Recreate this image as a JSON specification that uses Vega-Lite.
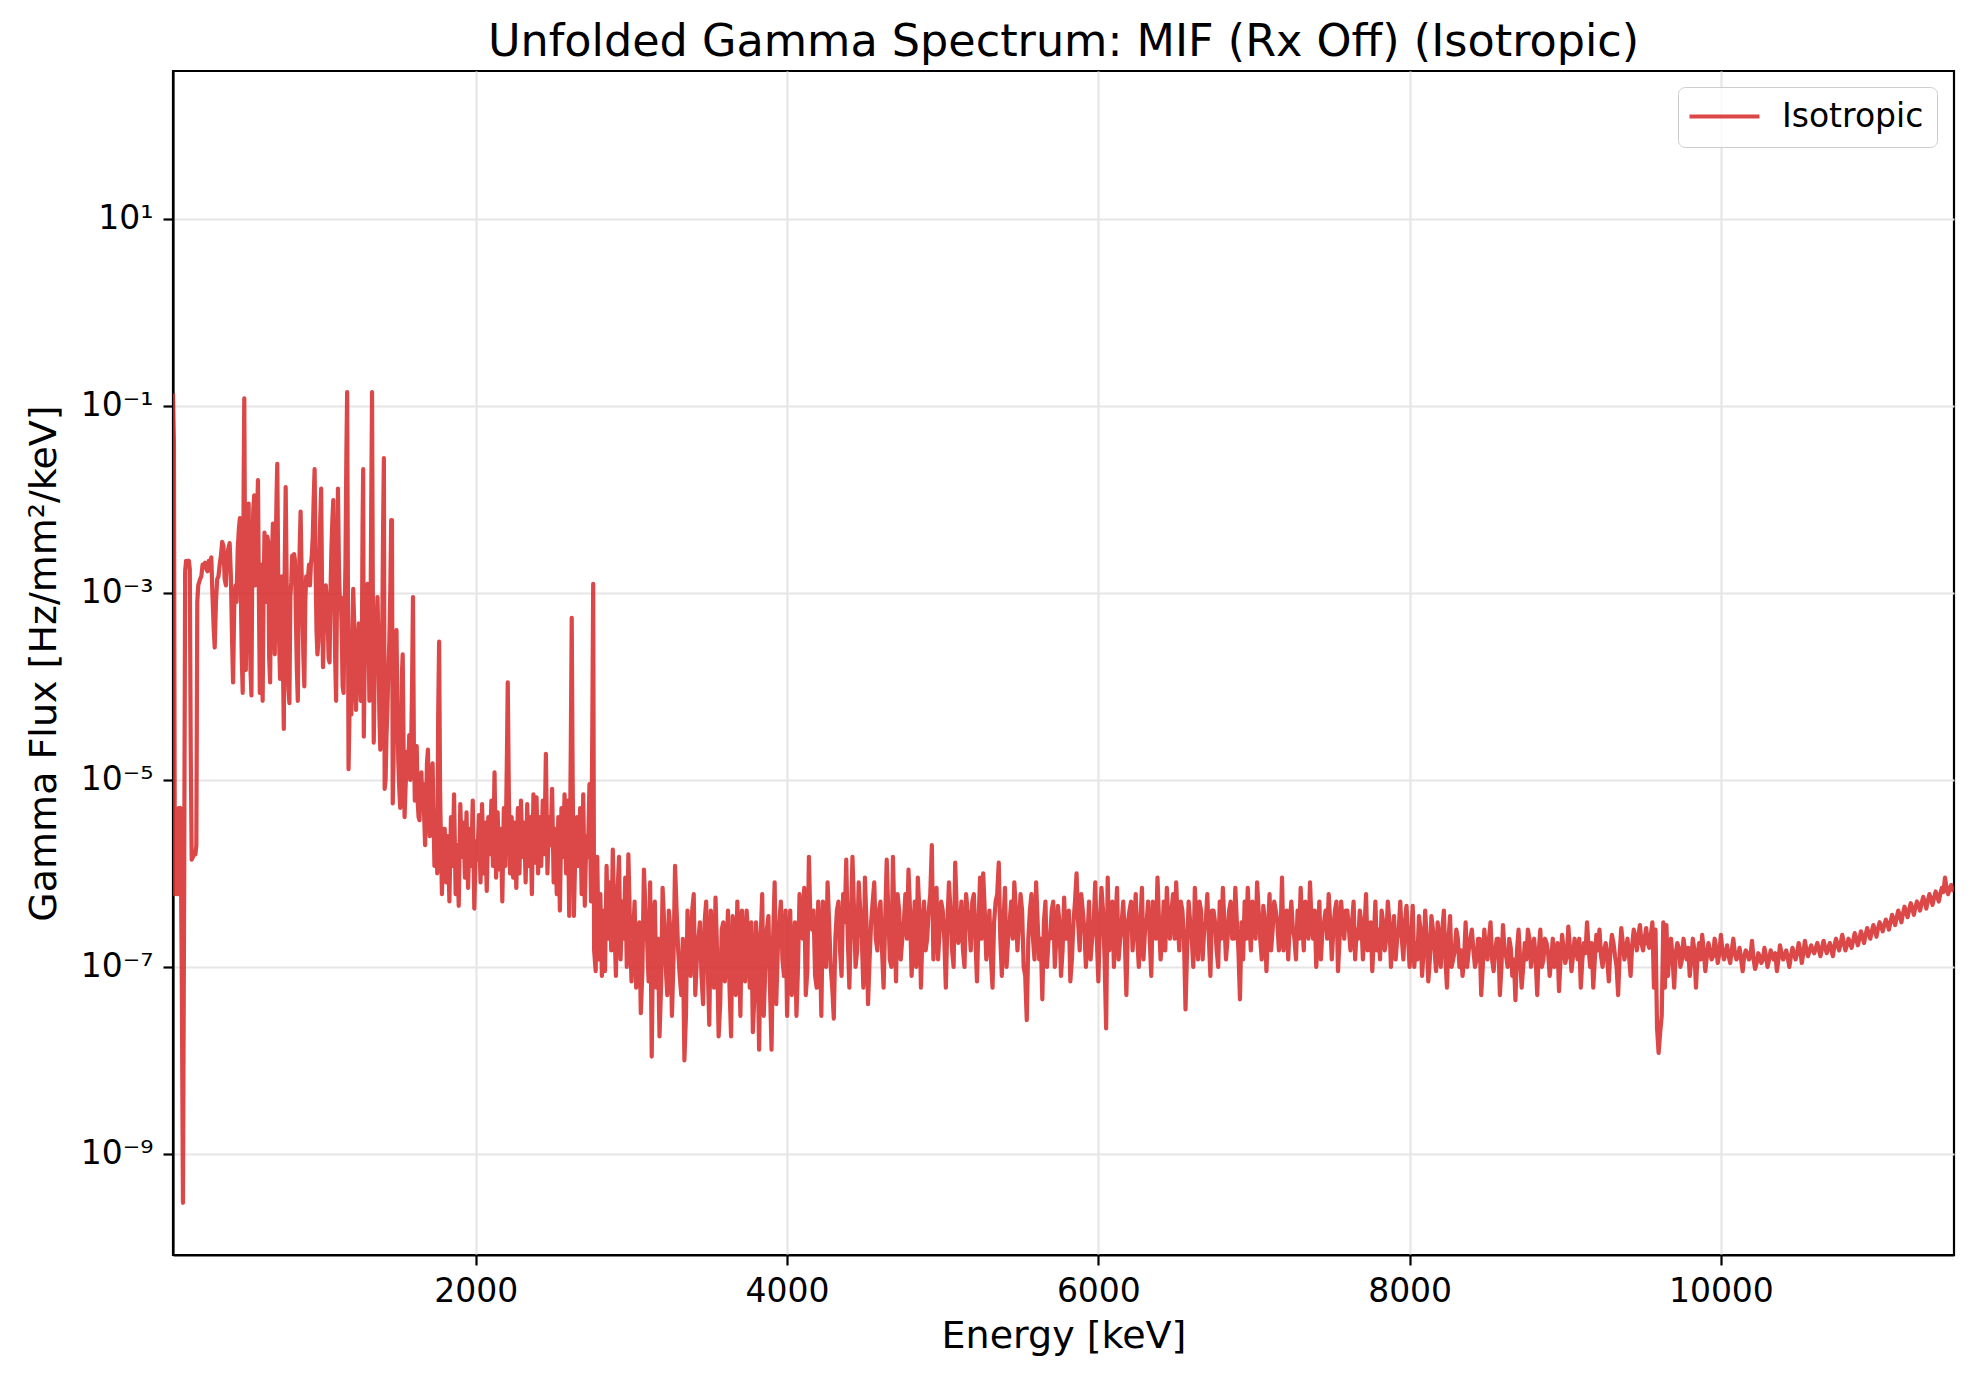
{
  "$schema": "https://vega.github.io/schema/vega-lite/v6.json",
  "autosize": {"type": "none"},
  "width": 1781,
  "height": 1184,
  "padding": {"left": 173, "top": 71, "right": 21, "bottom": 124},
  "background": "white",
  "title": {"text": "Unfolded Gamma Spectrum: MIF (Rx Off) (Isotropic)"},
  "data": {
    "values": [
      {"energy": 54, "flux": 0.135}, {"energy": 60, "flux": 0.04}, {"energy": 66, "flux": 6e-7}, {"energy": 72, "flux": 7e-7},
      {"energy": 78, "flux": 6.5e-7}, {"energy": 84, "flux": 6e-7}, {"energy": 90, "flux": 5e-6}, {"energy": 96, "flux": 4.5e-6},
      {"energy": 102, "flux": 5e-6}, {"energy": 110, "flux": 1e-7}, {"energy": 118, "flux": 3e-10}, {"energy": 126, "flux": 1e-6},
      {"energy": 132, "flux": 1.7e-3}, {"energy": 138, "flux": 2.2e-3}, {"energy": 144, "flux": 1.9e-3}, {"energy": 150, "flux": 2.1e-3},
      {"energy": 156, "flux": 2.2e-3}, {"energy": 162, "flux": 1.8e-3}, {"energy": 168, "flux": 2e-5}, {"energy": 174, "flux": 1.4e-6},
      {"energy": 182, "flux": 1.5e-6}, {"energy": 190, "flux": 1.7e-6}, {"energy": 198, "flux": 1.6e-6}, {"energy": 204, "flux": 2e-6},
      {"energy": 210, "flux": 8e-4}, {"energy": 216, "flux": 1.2e-3}, {"energy": 228, "flux": 1.4e-3}, {"energy": 236, "flux": 1.5e-3},
      {"energy": 244, "flux": 2.0e-3}, {"energy": 252, "flux": 1.9e-3}, {"energy": 260, "flux": 2.1e-3}, {"energy": 268, "flux": 1.8e-3},
      {"energy": 276, "flux": 1.7e-3}, {"energy": 284, "flux": 2.2e-3}, {"energy": 292, "flux": 2.0e-3}, {"energy": 300, "flux": 2.4e-3},
      {"energy": 308, "flux": 9e-4}, {"energy": 316, "flux": 4e-4}, {"energy": 322, "flux": 2.6e-4}, {"energy": 330, "flux": 8e-4},
      {"energy": 338, "flux": 1.4e-3}, {"energy": 346, "flux": 1.5e-3}, {"energy": 354, "flux": 2.0e-3}, {"energy": 362, "flux": 2.5e-3},
      {"energy": 370, "flux": 3.5e-3}, {"energy": 378, "flux": 3.2e-3}, {"energy": 386, "flux": 1.4e-3}, {"energy": 394, "flux": 1.2e-3},
      {"energy": 402, "flux": 2.5e-3}, {"energy": 410, "flux": 3.0e-3}, {"energy": 418, "flux": 3.4e-3}, {"energy": 426, "flux": 1.5e-3},
      {"energy": 434, "flux": 3e-4}, {"energy": 440, "flux": 1.1e-4}, {"energy": 448, "flux": 8e-4}, {"energy": 456, "flux": 1.2e-3},
      {"energy": 462, "flux": 8e-4}, {"energy": 470, "flux": 3e-3}, {"energy": 478, "flux": 5e-3}, {"energy": 484, "flux": 6.3e-3},
      {"energy": 490, "flux": 1e-3}, {"energy": 496, "flux": 2e-4}, {"energy": 502, "flux": 8.5e-5}, {"energy": 508, "flux": 1.5e-2},
      {"energy": 512, "flux": 0.12}, {"energy": 516, "flux": 5e-3}, {"energy": 522, "flux": 1.5e-4}, {"energy": 528, "flux": 2e-3},
      {"energy": 534, "flux": 4e-3}, {"energy": 540, "flux": 9e-3}, {"energy": 546, "flux": 6e-4}, {"energy": 552, "flux": 1.5e-4},
      {"energy": 558, "flux": 8e-5}, {"energy": 564, "flux": 3e-3}, {"energy": 570, "flux": 8e-3}, {"energy": 576, "flux": 1.1e-2},
      {"energy": 582, "flux": 1.2e-3}, {"energy": 588, "flux": 2e-3}, {"energy": 594, "flux": 6e-3}, {"energy": 600, "flux": 1.6e-2},
      {"energy": 606, "flux": 9e-4}, {"energy": 612, "flux": 8.5e-5}, {"energy": 618, "flux": 4e-4}, {"energy": 624, "flux": 2e-3},
      {"energy": 630, "flux": 7e-5}, {"energy": 636, "flux": 1e-3}, {"energy": 642, "flux": 4.4e-3}, {"energy": 648, "flux": 1.5e-3},
      {"energy": 654, "flux": 8e-4}, {"energy": 660, "flux": 4e-3}, {"energy": 666, "flux": 3.5e-3}, {"energy": 672, "flux": 2e-4},
      {"energy": 678, "flux": 1.1e-4}, {"energy": 684, "flux": 1e-3}, {"energy": 690, "flux": 2.5e-3}, {"energy": 696, "flux": 5.5e-3},
      {"energy": 702, "flux": 8e-4}, {"energy": 708, "flux": 2.2e-4}, {"energy": 714, "flux": 3e-3}, {"energy": 720, "flux": 1.2e-2},
      {"energy": 724, "flux": 2.4e-2}, {"energy": 730, "flux": 1.5e-3}, {"energy": 736, "flux": 3e-4}, {"energy": 742, "flux": 1.2e-4},
      {"energy": 748, "flux": 6e-4}, {"energy": 754, "flux": 1.5e-3}, {"energy": 760, "flux": 2e-4}, {"energy": 766, "flux": 3.5e-5},
      {"energy": 772, "flux": 2e-3}, {"energy": 778, "flux": 1.35e-2}, {"energy": 784, "flux": 1.5e-3}, {"energy": 790, "flux": 2e-4},
      {"energy": 796, "flux": 9e-5}, {"energy": 802, "flux": 6.6e-5}, {"energy": 808, "flux": 9e-4}, {"energy": 814, "flux": 1.3e-3},
      {"energy": 820, "flux": 2.5e-3}, {"energy": 826, "flux": 1.5e-3}, {"energy": 832, "flux": 2.6e-3}, {"energy": 838, "flux": 2.2e-3},
      {"energy": 844, "flux": 5e-4}, {"energy": 850, "flux": 1.5e-4}, {"energy": 856, "flux": 7e-5}, {"energy": 862, "flux": 1e-3},
      {"energy": 868, "flux": 3e-3}, {"energy": 874, "flux": 7.4e-3}, {"energy": 880, "flux": 1.8e-3}, {"energy": 886, "flux": 6e-4},
      {"energy": 892, "flux": 2e-4}, {"energy": 898, "flux": 1e-4}, {"energy": 904, "flux": 8e-4}, {"energy": 910, "flux": 1.5e-3},
      {"energy": 916, "flux": 1.2e-3}, {"energy": 922, "flux": 1.5e-3}, {"energy": 928, "flux": 2e-3}, {"energy": 934, "flux": 1.2e-3},
      {"energy": 940, "flux": 2e-3}, {"energy": 946, "flux": 2.5e-3}, {"energy": 952, "flux": 4e-3}, {"energy": 958, "flux": 1e-2},
      {"energy": 964, "flux": 2.1e-2}, {"energy": 970, "flux": 2e-3}, {"energy": 976, "flux": 4e-4}, {"energy": 982, "flux": 2.2e-4},
      {"energy": 988, "flux": 3e-4}, {"energy": 994, "flux": 2e-3}, {"energy": 1000, "flux": 6e-3}, {"energy": 1006, "flux": 1.3e-2},
      {"energy": 1012, "flux": 1e-3}, {"energy": 1018, "flux": 1.6e-4}, {"energy": 1024, "flux": 5e-4}, {"energy": 1030, "flux": 1e-3},
      {"energy": 1036, "flux": 1.2e-3}, {"energy": 1042, "flux": 8e-4}, {"energy": 1048, "flux": 5e-4}, {"energy": 1054, "flux": 2e-4},
      {"energy": 1060, "flux": 1.8e-4}, {"energy": 1066, "flux": 1e-3}, {"energy": 1072, "flux": 3e-3}, {"energy": 1078, "flux": 6e-3},
      {"energy": 1084, "flux": 9.8e-3}, {"energy": 1090, "flux": 1e-3}, {"energy": 1096, "flux": 2e-4}, {"energy": 1102, "flux": 7e-5},
      {"energy": 1108, "flux": 1e-3}, {"energy": 1114, "flux": 1.3e-2}, {"energy": 1120, "flux": 2e-3}, {"energy": 1126, "flux": 7.8e-4},
      {"energy": 1132, "flux": 9e-4}, {"energy": 1138, "flux": 4e-4}, {"energy": 1144, "flux": 1e-4}, {"energy": 1150, "flux": 8.5e-5},
      {"energy": 1156, "flux": 5e-4}, {"energy": 1162, "flux": 2e-3}, {"energy": 1168, "flux": 3e-2}, {"energy": 1173, "flux": 0.14},
      {"energy": 1178, "flux": 1e-3}, {"energy": 1182, "flux": 1.3e-5}, {"energy": 1188, "flux": 5e-5}, {"energy": 1194, "flux": 1.5e-4},
      {"energy": 1200, "flux": 5e-5}, {"energy": 1206, "flux": 4e-4}, {"energy": 1212, "flux": 1.1e-3}, {"energy": 1218, "flux": 5e-4},
      {"energy": 1224, "flux": 1.2e-4}, {"energy": 1230, "flux": 5.6e-5}, {"energy": 1236, "flux": 2e-4}, {"energy": 1242, "flux": 3e-4},
      {"energy": 1248, "flux": 4.7e-4}, {"energy": 1254, "flux": 2e-4}, {"energy": 1260, "flux": 7e-5}, {"energy": 1266, "flux": 1e-4},
      {"energy": 1272, "flux": 5e-3}, {"energy": 1276, "flux": 2.1e-2}, {"energy": 1280, "flux": 2.9e-5}, {"energy": 1286, "flux": 2e-4},
      {"energy": 1292, "flux": 4e-4}, {"energy": 1298, "flux": 6e-4}, {"energy": 1304, "flux": 1.25e-3}, {"energy": 1310, "flux": 4e-4},
      {"energy": 1316, "flux": 7e-5}, {"energy": 1322, "flux": 2e-4}, {"energy": 1328, "flux": 1e-2}, {"energy": 1333, "flux": 0.14},
      {"energy": 1338, "flux": 1e-3}, {"energy": 1344, "flux": 2.5e-5}, {"energy": 1350, "flux": 1.5e-4}, {"energy": 1356, "flux": 3e-4},
      {"energy": 1362, "flux": 5e-4}, {"energy": 1368, "flux": 9e-4}, {"energy": 1374, "flux": 3e-4}, {"energy": 1380, "flux": 5e-5},
      {"energy": 1386, "flux": 2.1e-5}, {"energy": 1392, "flux": 2e-4}, {"energy": 1398, "flux": 3e-4}, {"energy": 1404, "flux": 5e-3},
      {"energy": 1409, "flux": 2.75e-2}, {"energy": 1414, "flux": 8e-6}, {"energy": 1420, "flux": 1e-5}, {"energy": 1426, "flux": 3e-5},
      {"energy": 1432, "flux": 6e-5}, {"energy": 1438, "flux": 1.5e-4}, {"energy": 1444, "flux": 3e-4}, {"energy": 1450, "flux": 1e-3},
      {"energy": 1456, "flux": 6e-3}, {"energy": 1461, "flux": 6e-3}, {"energy": 1466, "flux": 5.6e-6}, {"energy": 1472, "flux": 2e-5},
      {"energy": 1478, "flux": 1.5e-4}, {"energy": 1484, "flux": 3e-4}, {"energy": 1490, "flux": 4e-4}, {"energy": 1496, "flux": 6e-5},
      {"energy": 1502, "flux": 1.5e-5}, {"energy": 1508, "flux": 8e-6}, {"energy": 1514, "flux": 5e-6}, {"energy": 1520, "flux": 3e-5},
      {"energy": 1526, "flux": 1.5e-4}, {"energy": 1530, "flux": 2.2e-4}, {"energy": 1536, "flux": 2e-5}, {"energy": 1542, "flux": 4e-6},
      {"energy": 1548, "flux": 8e-6}, {"energy": 1554, "flux": 1.4e-5}, {"energy": 1560, "flux": 2e-5}, {"energy": 1566, "flux": 1.5e-5},
      {"energy": 1572, "flux": 3e-5}, {"energy": 1578, "flux": 1e-5}, {"energy": 1584, "flux": 2e-5}, {"energy": 1590, "flux": 1e-4},
      {"energy": 1596, "flux": 9e-4}, {"energy": 1602, "flux": 2e-5}, {"energy": 1608, "flux": 6e-6}, {"energy": 1614, "flux": 1.2e-5},
      {"energy": 1620, "flux": 2.3e-5}, {"energy": 1626, "flux": 6e-6}, {"energy": 1632, "flux": 4e-6}, {"energy": 1638, "flux": 3.7e-6},
      {"energy": 1644, "flux": 8e-6}, {"energy": 1650, "flux": 1.2e-5}, {"energy": 1656, "flux": 6e-6}, {"energy": 1662, "flux": 9e-6},
      {"energy": 1668, "flux": 4e-6}, {"energy": 1674, "flux": 2e-6}, {"energy": 1680, "flux": 5e-6}, {"energy": 1686, "flux": 1.5e-5},
      {"energy": 1692, "flux": 2.1e-5}, {"energy": 1698, "flux": 6e-6}, {"energy": 1704, "flux": 2.5e-6}, {"energy": 1710, "flux": 5e-6},
      {"energy": 1716, "flux": 1e-5}, {"energy": 1722, "flux": 1.5e-5}, {"energy": 1728, "flux": 4e-6}, {"energy": 1734, "flux": 1.2e-6},
      {"energy": 1740, "flux": 2e-6}, {"energy": 1746, "flux": 3.7e-6}, {"energy": 1752, "flux": 1e-6}, {"energy": 1758, "flux": 5e-5},
      {"energy": 1764, "flux": 3e-4}, {"energy": 1770, "flux": 8e-6}, {"energy": 1776, "flux": 2e-6}, {"energy": 1782, "flux": 6e-7},
      {"energy": 1788, "flux": 1.5e-6}, {"energy": 1794, "flux": 3e-6}, {"energy": 1800, "flux": 3e-6}, {"energy": 1810, "flux": 8e-7},
      {"energy": 1820, "flux": 2.5e-6}, {"energy": 1830, "flux": 5e-7}, {"energy": 1840, "flux": 4e-6}, {"energy": 1850, "flux": 1.2e-6},
      {"energy": 1860, "flux": 7e-6}, {"energy": 1870, "flux": 6e-7}, {"energy": 1880, "flux": 2e-6}, {"energy": 1890, "flux": 4.5e-7},
      {"energy": 1900, "flux": 5.5e-6}, {"energy": 1910, "flux": 1.5e-6}, {"energy": 1920, "flux": 3.5e-6}, {"energy": 1930, "flux": 9e-7},
      {"energy": 1940, "flux": 4.5e-6}, {"energy": 1950, "flux": 7e-7}, {"energy": 1960, "flux": 3e-6}, {"energy": 1970, "flux": 1.2e-6},
      {"energy": 1980, "flux": 6e-6}, {"energy": 1990, "flux": 4.2e-7}, {"energy": 2000, "flux": 2.2e-6}, {"energy": 2010, "flux": 1.4e-6},
      {"energy": 2020, "flux": 4.2e-6}, {"energy": 2030, "flux": 8e-7}, {"energy": 2040, "flux": 5.5e-6}, {"energy": 2050, "flux": 1e-6},
      {"energy": 2060, "flux": 3.5e-6}, {"energy": 2070, "flux": 6.5e-7}, {"energy": 2080, "flux": 4e-6}, {"energy": 2090, "flux": 1.6e-6},
      {"energy": 2100, "flux": 6e-6}, {"energy": 2110, "flux": 1.2e-6}, {"energy": 2120, "flux": 1.2e-5}, {"energy": 2130, "flux": 9e-7},
      {"energy": 2140, "flux": 4.5e-6}, {"energy": 2150, "flux": 1.1e-6}, {"energy": 2160, "flux": 3e-6}, {"energy": 2170, "flux": 5e-7},
      {"energy": 2180, "flux": 5e-6}, {"energy": 2190, "flux": 1.2e-6}, {"energy": 2200, "flux": 2e-5}, {"energy": 2205, "flux": 1.1e-4},
      {"energy": 2212, "flux": 7e-6}, {"energy": 2220, "flux": 1e-6}, {"energy": 2230, "flux": 4e-6}, {"energy": 2240, "flux": 9e-7},
      {"energy": 2250, "flux": 3.5e-6}, {"energy": 2260, "flux": 7e-7}, {"energy": 2270, "flux": 5e-6}, {"energy": 2280, "flux": 1e-6},
      {"energy": 2290, "flux": 6e-6}, {"energy": 2300, "flux": 1.5e-6}, {"energy": 2310, "flux": 3.5e-6}, {"energy": 2320, "flux": 8e-7},
      {"energy": 2330, "flux": 5.5e-6}, {"energy": 2340, "flux": 1.2e-6}, {"energy": 2350, "flux": 4e-6}, {"energy": 2360, "flux": 6e-7},
      {"energy": 2370, "flux": 7e-6}, {"energy": 2380, "flux": 1.3e-6}, {"energy": 2390, "flux": 6.5e-6}, {"energy": 2400, "flux": 1e-6},
      {"energy": 2410, "flux": 4e-6}, {"energy": 2420, "flux": 1.2e-6}, {"energy": 2430, "flux": 6e-6}, {"energy": 2440, "flux": 1.6e-6},
      {"energy": 2450, "flux": 1.9e-5}, {"energy": 2460, "flux": 1e-6}, {"energy": 2470, "flux": 4e-6}, {"energy": 2480, "flux": 2e-6},
      {"energy": 2490, "flux": 8e-6}, {"energy": 2500, "flux": 8e-7}, {"energy": 2510, "flux": 3e-6}, {"energy": 2520, "flux": 6e-7},
      {"energy": 2530, "flux": 4e-6}, {"energy": 2540, "flux": 4e-7}, {"energy": 2550, "flux": 5e-6}, {"energy": 2560, "flux": 1.5e-6},
      {"energy": 2570, "flux": 7e-6}, {"energy": 2580, "flux": 1e-6}, {"energy": 2590, "flux": 6e-6}, {"energy": 2600, "flux": 3.5e-7},
      {"energy": 2610, "flux": 2e-5}, {"energy": 2616, "flux": 5.4e-4}, {"energy": 2622, "flux": 1e-5}, {"energy": 2630, "flux": 3.5e-7},
      {"energy": 2640, "flux": 2e-6}, {"energy": 2650, "flux": 4e-6}, {"energy": 2660, "flux": 1.2e-6}, {"energy": 2670, "flux": 5e-6},
      {"energy": 2680, "flux": 6e-7}, {"energy": 2690, "flux": 7e-6}, {"energy": 2700, "flux": 4.5e-7}, {"energy": 2710, "flux": 2.5e-6},
      {"energy": 2720, "flux": 1.5e-6}, {"energy": 2730, "flux": 9e-6}, {"energy": 2740, "flux": 5e-7}, {"energy": 2748, "flux": 3e-5},
      {"energy": 2754, "flux": 1.25e-3}, {"energy": 2760, "flux": 1.5e-7}, {"energy": 2770, "flux": 9e-8}, {"energy": 2780, "flux": 1.5e-6},
      {"energy": 2790, "flux": 1.2e-7}, {"energy": 2800, "flux": 6e-7}, {"energy": 2810, "flux": 8e-8}, {"energy": 2820, "flux": 4e-7},
      {"energy": 2830, "flux": 9e-8}, {"energy": 2840, "flux": 1.2e-6}, {"energy": 2850, "flux": 2e-7}, {"energy": 2860, "flux": 8e-7},
      {"energy": 2870, "flux": 1.5e-7}, {"energy": 2880, "flux": 1.8e-6}, {"energy": 2890, "flux": 3e-7}, {"energy": 2900, "flux": 8e-8},
      {"energy": 2910, "flux": 6e-7}, {"energy": 2920, "flux": 1.5e-6}, {"energy": 2930, "flux": 1.2e-7}, {"energy": 2940, "flux": 5e-7},
      {"energy": 2950, "flux": 2e-7}, {"energy": 2960, "flux": 9e-7}, {"energy": 2970, "flux": 1e-7}, {"energy": 2980, "flux": 1.6e-6},
      {"energy": 2990, "flux": 3e-7}, {"energy": 3000, "flux": 7e-8}, {"energy": 3020, "flux": 5e-7}, {"energy": 3040, "flux": 1.2e-7},
      {"energy": 3060, "flux": 3.2e-8}, {"energy": 3080, "flux": 1.1e-6}, {"energy": 3100, "flux": 2e-7}, {"energy": 3120, "flux": 8e-7},
      {"energy": 3130, "flux": 1.1e-8}, {"energy": 3140, "flux": 3e-7}, {"energy": 3160, "flux": 6e-8}, {"energy": 3180, "flux": 1.8e-8},
      {"energy": 3200, "flux": 7e-7}, {"energy": 3220, "flux": 1e-7}, {"energy": 3240, "flux": 4e-7}, {"energy": 3260, "flux": 3e-8},
      {"energy": 3280, "flux": 1.2e-6}, {"energy": 3300, "flux": 1.5e-7}, {"energy": 3320, "flux": 5e-8}, {"energy": 3340, "flux": 1e-8},
      {"energy": 3360, "flux": 4e-7}, {"energy": 3380, "flux": 8e-8}, {"energy": 3400, "flux": 6e-7}, {"energy": 3420, "flux": 1.2e-7},
      {"energy": 3440, "flux": 3e-7}, {"energy": 3460, "flux": 4e-8}, {"energy": 3480, "flux": 5e-7}, {"energy": 3500, "flux": 2.4e-8},
      {"energy": 3520, "flux": 2e-7}, {"energy": 3540, "flux": 5.5e-7}, {"energy": 3560, "flux": 1.8e-8}, {"energy": 3580, "flux": 2.5e-7},
      {"energy": 3600, "flux": 7e-8}, {"energy": 3620, "flux": 4e-7}, {"energy": 3640, "flux": 1.8e-8}, {"energy": 3660, "flux": 2e-7},
      {"energy": 3680, "flux": 5e-7}, {"energy": 3700, "flux": 3e-8}, {"energy": 3720, "flux": 1.5e-7}, {"energy": 3740, "flux": 4e-7},
      {"energy": 3760, "flux": 6e-8}, {"energy": 3780, "flux": 2e-8}, {"energy": 3800, "flux": 3e-7}, {"energy": 3820, "flux": 1.3e-8},
      {"energy": 3840, "flux": 6e-7}, {"energy": 3860, "flux": 1e-7}, {"energy": 3880, "flux": 3.5e-7}, {"energy": 3900, "flux": 1.3e-8},
      {"energy": 3920, "flux": 8e-7}, {"energy": 3940, "flux": 1.5e-7}, {"energy": 3960, "flux": 5e-7}, {"energy": 3980, "flux": 8e-8},
      {"energy": 4000, "flux": 3e-8}, {"energy": 4020, "flux": 4e-7}, {"energy": 4040, "flux": 1.2e-7}, {"energy": 4060, "flux": 3e-8},
      {"energy": 4080, "flux": 6e-7}, {"energy": 4100, "flux": 2e-7}, {"energy": 4120, "flux": 5e-8}, {"energy": 4140, "flux": 1.5e-6},
      {"energy": 4160, "flux": 2.5e-7}, {"energy": 4180, "flux": 8e-8}, {"energy": 4200, "flux": 5e-7}, {"energy": 4220, "flux": 3e-8},
      {"energy": 4240, "flux": 3e-7}, {"energy": 4260, "flux": 8e-7}, {"energy": 4280, "flux": 1e-7}, {"energy": 4300, "flux": 2.8e-8},
      {"energy": 4320, "flux": 4e-7}, {"energy": 4340, "flux": 1.5e-7}, {"energy": 4360, "flux": 6e-7}, {"energy": 4380, "flux": 1.4e-6},
      {"energy": 4400, "flux": 6e-8}, {"energy": 4420, "flux": 1.5e-6}, {"energy": 4440, "flux": 1e-7}, {"energy": 4460, "flux": 8e-7},
      {"energy": 4480, "flux": 2e-7}, {"energy": 4500, "flux": 9e-7}, {"energy": 4520, "flux": 4e-8}, {"energy": 4540, "flux": 3e-7},
      {"energy": 4560, "flux": 8e-7}, {"energy": 4580, "flux": 1.5e-7}, {"energy": 4600, "flux": 5e-7}, {"energy": 4620, "flux": 6e-8},
      {"energy": 4640, "flux": 1.4e-6}, {"energy": 4660, "flux": 1.2e-7}, {"energy": 4680, "flux": 1.5e-6}, {"energy": 4700, "flux": 7e-8},
      {"energy": 4720, "flux": 4e-7}, {"energy": 4740, "flux": 2e-7}, {"energy": 4760, "flux": 6e-7}, {"energy": 4780, "flux": 1.1e-6},
      {"energy": 4800, "flux": 8e-8}, {"energy": 4820, "flux": 5e-7}, {"energy": 4840, "flux": 9e-7}, {"energy": 4860, "flux": 6e-8},
      {"energy": 4880, "flux": 5e-7}, {"energy": 4900, "flux": 2e-7}, {"energy": 4920, "flux": 6e-7}, {"energy": 4930, "flux": 2e-6},
      {"energy": 4940, "flux": 1.2e-7}, {"energy": 4960, "flux": 7e-7}, {"energy": 4980, "flux": 2.5e-7}, {"energy": 5000, "flux": 4e-7},
      {"energy": 5020, "flux": 6e-8}, {"energy": 5040, "flux": 8e-7}, {"energy": 5060, "flux": 1.5e-7}, {"energy": 5080, "flux": 1.3e-6},
      {"energy": 5100, "flux": 1.8e-7}, {"energy": 5120, "flux": 5e-7}, {"energy": 5140, "flux": 1e-7}, {"energy": 5160, "flux": 4e-7},
      {"energy": 5180, "flux": 1.5e-7}, {"energy": 5200, "flux": 6e-7}, {"energy": 5220, "flux": 7e-8}, {"energy": 5240, "flux": 9e-7},
      {"energy": 5260, "flux": 1e-6}, {"energy": 5280, "flux": 1.2e-7}, {"energy": 5300, "flux": 4e-7}, {"energy": 5320, "flux": 6e-8},
      {"energy": 5340, "flux": 5e-7}, {"energy": 5360, "flux": 1.3e-6}, {"energy": 5380, "flux": 8e-8}, {"energy": 5400, "flux": 7e-7},
      {"energy": 5420, "flux": 2e-7}, {"energy": 5440, "flux": 5e-7}, {"energy": 5460, "flux": 8e-7}, {"energy": 5480, "flux": 1.5e-7},
      {"energy": 5500, "flux": 6e-7}, {"energy": 5520, "flux": 1e-7}, {"energy": 5540, "flux": 2.7e-8}, {"energy": 5560, "flux": 4e-7},
      {"energy": 5580, "flux": 2e-7}, {"energy": 5600, "flux": 8e-7}, {"energy": 5620, "flux": 1.2e-7}, {"energy": 5640, "flux": 4.5e-8},
      {"energy": 5660, "flux": 5e-7}, {"energy": 5680, "flux": 2e-7}, {"energy": 5700, "flux": 4e-7}, {"energy": 5720, "flux": 1e-7},
      {"energy": 5740, "flux": 4.5e-7}, {"energy": 5760, "flux": 8e-8}, {"energy": 5780, "flux": 5.5e-7}, {"energy": 5800, "flux": 2e-7},
      {"energy": 5820, "flux": 7e-8}, {"energy": 5840, "flux": 3e-7}, {"energy": 5860, "flux": 1e-6}, {"energy": 5880, "flux": 1.5e-7},
      {"energy": 5900, "flux": 4e-7}, {"energy": 5920, "flux": 1e-7}, {"energy": 5940, "flux": 5e-7}, {"energy": 5960, "flux": 2e-7},
      {"energy": 5980, "flux": 8e-7}, {"energy": 6000, "flux": 7e-8}, {"energy": 6020, "flux": 7e-7}, {"energy": 6040, "flux": 1.2e-7},
      {"energy": 6050, "flux": 2.2e-8}, {"energy": 6060, "flux": 9e-7}, {"energy": 6080, "flux": 3e-7}, {"energy": 6100, "flux": 1e-7},
      {"energy": 6120, "flux": 7e-7}, {"energy": 6140, "flux": 2e-7}, {"energy": 6160, "flux": 5e-7}, {"energy": 6180, "flux": 5e-8},
      {"energy": 6200, "flux": 4e-7}, {"energy": 6220, "flux": 1.5e-7}, {"energy": 6240, "flux": 6e-7}, {"energy": 6260, "flux": 1e-7},
      {"energy": 6280, "flux": 7e-7}, {"energy": 6300, "flux": 2.5e-7}, {"energy": 6320, "flux": 5e-7}, {"energy": 6340, "flux": 8e-8},
      {"energy": 6360, "flux": 4e-7}, {"energy": 6380, "flux": 9e-7}, {"energy": 6400, "flux": 1.2e-7}, {"energy": 6420, "flux": 5e-7},
      {"energy": 6440, "flux": 7e-7}, {"energy": 6460, "flux": 2e-7}, {"energy": 6480, "flux": 6e-7}, {"energy": 6500, "flux": 8e-7},
      {"energy": 6520, "flux": 1.5e-7}, {"energy": 6540, "flux": 4e-7}, {"energy": 6560, "flux": 3.5e-8}, {"energy": 6580, "flux": 5e-7},
      {"energy": 6600, "flux": 2e-7}, {"energy": 6620, "flux": 7e-7}, {"energy": 6640, "flux": 1.2e-7}, {"energy": 6660, "flux": 4e-7},
      {"energy": 6680, "flux": 2.5e-7}, {"energy": 6700, "flux": 6e-7}, {"energy": 6720, "flux": 8e-8}, {"energy": 6740, "flux": 4e-7},
      {"energy": 6760, "flux": 1.5e-7}, {"energy": 6780, "flux": 5e-7}, {"energy": 6800, "flux": 7e-7}, {"energy": 6820, "flux": 1.2e-7},
      {"energy": 6840, "flux": 4e-7}, {"energy": 6860, "flux": 2e-7}, {"energy": 6880, "flux": 7e-7}, {"energy": 6900, "flux": 1.5e-7},
      {"energy": 6910, "flux": 4.5e-8}, {"energy": 6920, "flux": 3e-7}, {"energy": 6940, "flux": 5e-7}, {"energy": 6960, "flux": 7e-7},
      {"energy": 6980, "flux": 1.5e-7}, {"energy": 7000, "flux": 4e-7}, {"energy": 7020, "flux": 8e-7}, {"energy": 7040, "flux": 2e-7},
      {"energy": 7060, "flux": 4.5e-7}, {"energy": 7080, "flux": 9e-8}, {"energy": 7100, "flux": 6e-7}, {"energy": 7120, "flux": 2.5e-7},
      {"energy": 7140, "flux": 4e-7}, {"energy": 7160, "flux": 1.5e-7}, {"energy": 7180, "flux": 9e-7}, {"energy": 7200, "flux": 3e-7},
      {"energy": 7220, "flux": 1.2e-7}, {"energy": 7240, "flux": 5e-7}, {"energy": 7260, "flux": 2e-7}, {"energy": 7280, "flux": 4e-7},
      {"energy": 7300, "flux": 7e-7}, {"energy": 7320, "flux": 1.5e-7}, {"energy": 7340, "flux": 4e-7}, {"energy": 7360, "flux": 8e-7},
      {"energy": 7380, "flux": 2e-7}, {"energy": 7400, "flux": 1e-7}, {"energy": 7420, "flux": 5e-7}, {"energy": 7440, "flux": 2.5e-7},
      {"energy": 7460, "flux": 4e-7}, {"energy": 7480, "flux": 6e-7}, {"energy": 7500, "flux": 1.2e-7}, {"energy": 7520, "flux": 4e-7},
      {"energy": 7540, "flux": 9e-8}, {"energy": 7560, "flux": 5e-7}, {"energy": 7580, "flux": 2e-7}, {"energy": 7600, "flux": 4e-7},
      {"energy": 7620, "flux": 1.5e-7}, {"energy": 7640, "flux": 5e-7}, {"energy": 7660, "flux": 2.5e-7}, {"energy": 7680, "flux": 4e-7},
      {"energy": 7700, "flux": 1.2e-7}, {"energy": 7720, "flux": 6e-7}, {"energy": 7740, "flux": 2e-7}, {"energy": 7760, "flux": 9e-8},
      {"energy": 7780, "flux": 5e-7}, {"energy": 7800, "flux": 2.5e-7}, {"energy": 7820, "flux": 4e-7}, {"energy": 7840, "flux": 1.5e-7},
      {"energy": 7860, "flux": 5e-7}, {"energy": 7880, "flux": 1e-7}, {"energy": 7900, "flux": 3.5e-7}, {"energy": 7920, "flux": 2e-7},
      {"energy": 7940, "flux": 5e-7}, {"energy": 7960, "flux": 1.2e-7}, {"energy": 7980, "flux": 4.5e-7}, {"energy": 8000, "flux": 1e-7},
      {"energy": 8020, "flux": 4.5e-7}, {"energy": 8040, "flux": 1.8e-7}, {"energy": 8060, "flux": 3.5e-7}, {"energy": 8080, "flux": 8e-8},
      {"energy": 8100, "flux": 4e-7}, {"energy": 8120, "flux": 7e-8}, {"energy": 8140, "flux": 3.5e-7}, {"energy": 8160, "flux": 1.5e-7},
      {"energy": 8180, "flux": 3e-7}, {"energy": 8200, "flux": 1e-7}, {"energy": 8220, "flux": 4e-7}, {"energy": 8240, "flux": 6e-8},
      {"energy": 8260, "flux": 3.5e-7}, {"energy": 8280, "flux": 1.2e-7}, {"energy": 8300, "flux": 2.5e-7}, {"energy": 8320, "flux": 1e-7},
      {"energy": 8340, "flux": 8e-8}, {"energy": 8360, "flux": 3e-7}, {"energy": 8380, "flux": 1.5e-7}, {"energy": 8400, "flux": 2.5e-7},
      {"energy": 8420, "flux": 1e-7}, {"energy": 8440, "flux": 2e-7}, {"energy": 8460, "flux": 5e-8}, {"energy": 8480, "flux": 2.5e-7},
      {"energy": 8500, "flux": 1.2e-7}, {"energy": 8520, "flux": 3e-7}, {"energy": 8540, "flux": 9e-8}, {"energy": 8560, "flux": 2e-7},
      {"energy": 8580, "flux": 5e-8}, {"energy": 8600, "flux": 2.8e-7}, {"energy": 8620, "flux": 1.3e-7}, {"energy": 8640, "flux": 2e-7},
      {"energy": 8660, "flux": 8e-8}, {"energy": 8680, "flux": 4.4e-8}, {"energy": 8700, "flux": 2.5e-7}, {"energy": 8720, "flux": 6e-8},
      {"energy": 8740, "flux": 1.8e-7}, {"energy": 8760, "flux": 2.5e-7}, {"energy": 8780, "flux": 1e-7}, {"energy": 8800, "flux": 2e-7},
      {"energy": 8820, "flux": 5e-8}, {"energy": 8840, "flux": 2.5e-7}, {"energy": 8860, "flux": 1.2e-7}, {"energy": 8880, "flux": 1.8e-7},
      {"energy": 8900, "flux": 8e-8}, {"energy": 8920, "flux": 2e-7}, {"energy": 8940, "flux": 1.3e-7}, {"energy": 8960, "flux": 5.5e-8},
      {"energy": 8980, "flux": 2.2e-7}, {"energy": 9000, "flux": 1.1e-7}, {"energy": 9020, "flux": 2.7e-7}, {"energy": 9040, "flux": 9e-8},
      {"energy": 9060, "flux": 2e-7}, {"energy": 9080, "flux": 1.2e-7}, {"energy": 9100, "flux": 6e-8}, {"energy": 9120, "flux": 1.8e-7},
      {"energy": 9140, "flux": 3e-7}, {"energy": 9160, "flux": 1e-7}, {"energy": 9180, "flux": 6e-8}, {"energy": 9200, "flux": 2.2e-7},
      {"energy": 9220, "flux": 2.5e-7}, {"energy": 9240, "flux": 1e-7}, {"energy": 9260, "flux": 1.8e-7}, {"energy": 9280, "flux": 7e-8},
      {"energy": 9300, "flux": 2.2e-7}, {"energy": 9320, "flux": 1.3e-7}, {"energy": 9340, "flux": 5e-8}, {"energy": 9360, "flux": 2.6e-7},
      {"energy": 9380, "flux": 1.2e-7}, {"energy": 9400, "flux": 2e-7}, {"energy": 9420, "flux": 8e-8}, {"energy": 9440, "flux": 2.5e-7},
      {"energy": 9460, "flux": 1.5e-7}, {"energy": 9480, "flux": 2.8e-7}, {"energy": 9500, "flux": 1.5e-7}, {"energy": 9520, "flux": 2.6e-7},
      {"energy": 9540, "flux": 1.6e-7}, {"energy": 9560, "flux": 3e-7}, {"energy": 9570, "flux": 6e-8}, {"energy": 9580, "flux": 2.5e-7},
      {"energy": 9590, "flux": 2.2e-8}, {"energy": 9600, "flux": 1.2e-8}, {"energy": 9610, "flux": 2e-8}, {"energy": 9620, "flux": 3e-8},
      {"energy": 9630, "flux": 3e-7}, {"energy": 9640, "flux": 6e-8}, {"energy": 9650, "flux": 2.8e-7}, {"energy": 9660, "flux": 8e-8},
      {"energy": 9680, "flux": 2e-7}, {"energy": 9700, "flux": 6e-8}, {"energy": 9720, "flux": 1.8e-7}, {"energy": 9740, "flux": 1e-7},
      {"energy": 9760, "flux": 2e-7}, {"energy": 9780, "flux": 1.2e-7}, {"energy": 9800, "flux": 8e-8}, {"energy": 9820, "flux": 2e-7},
      {"energy": 9840, "flux": 6e-8}, {"energy": 9860, "flux": 1.8e-7}, {"energy": 9880, "flux": 2.2e-7}, {"energy": 9900, "flux": 9e-8},
      {"energy": 9920, "flux": 1.8e-7}, {"energy": 9940, "flux": 1.2e-7}, {"energy": 9960, "flux": 2e-7}, {"energy": 9980, "flux": 1.1e-7},
      {"energy": 10000, "flux": 2.2e-7}, {"energy": 10020, "flux": 1.2e-7}, {"energy": 10040, "flux": 1.7e-7}, {"energy": 10060, "flux": 1.1e-7},
      {"energy": 10080, "flux": 2e-7}, {"energy": 10100, "flux": 1.2e-7}, {"energy": 10120, "flux": 1.6e-7}, {"energy": 10140, "flux": 9e-8},
      {"energy": 10160, "flux": 1.5e-7}, {"energy": 10180, "flux": 1.2e-7}, {"energy": 10200, "flux": 1.9e-7}, {"energy": 10220, "flux": 9.5e-8},
      {"energy": 10240, "flux": 1.4e-7}, {"energy": 10260, "flux": 1.1e-7}, {"energy": 10280, "flux": 1.6e-7}, {"energy": 10300, "flux": 1e-7},
      {"energy": 10320, "flux": 1.5e-7}, {"energy": 10340, "flux": 1.2e-7}, {"energy": 10360, "flux": 9e-8}, {"energy": 10380, "flux": 1.7e-7},
      {"energy": 10400, "flux": 1.2e-7}, {"energy": 10420, "flux": 1.5e-7}, {"energy": 10440, "flux": 1e-7}, {"energy": 10460, "flux": 1.6e-7},
      {"energy": 10480, "flux": 1.2e-7}, {"energy": 10500, "flux": 1.8e-7}, {"energy": 10520, "flux": 1.1e-7}, {"energy": 10540, "flux": 1.9e-7},
      {"energy": 10560, "flux": 1.3e-7}, {"energy": 10580, "flux": 1.7e-7}, {"energy": 10600, "flux": 1.4e-7}, {"energy": 10620, "flux": 1.8e-7},
      {"energy": 10640, "flux": 1.3e-7}, {"energy": 10660, "flux": 1.9e-7}, {"energy": 10680, "flux": 1.4e-7}, {"energy": 10700, "flux": 1.8e-7},
      {"energy": 10720, "flux": 1.3e-7}, {"energy": 10740, "flux": 2e-7}, {"energy": 10760, "flux": 1.5e-7}, {"energy": 10780, "flux": 2.2e-7},
      {"energy": 10800, "flux": 1.5e-7}, {"energy": 10820, "flux": 2e-7}, {"energy": 10840, "flux": 1.6e-7}, {"energy": 10860, "flux": 2.3e-7},
      {"energy": 10880, "flux": 1.7e-7}, {"energy": 10900, "flux": 2.4e-7}, {"energy": 10920, "flux": 1.8e-7}, {"energy": 10940, "flux": 2.6e-7},
      {"energy": 10960, "flux": 2e-7}, {"energy": 10980, "flux": 2.8e-7}, {"energy": 11000, "flux": 2.1e-7}, {"energy": 11020, "flux": 3e-7},
      {"energy": 11040, "flux": 2.4e-7}, {"energy": 11060, "flux": 3.2e-7}, {"energy": 11080, "flux": 2.5e-7}, {"energy": 11100, "flux": 3.6e-7},
      {"energy": 11120, "flux": 2.8e-7}, {"energy": 11140, "flux": 4e-7}, {"energy": 11160, "flux": 3e-7}, {"energy": 11180, "flux": 4.4e-7},
      {"energy": 11200, "flux": 3.4e-7}, {"energy": 11220, "flux": 4.8e-7}, {"energy": 11240, "flux": 3.6e-7}, {"energy": 11260, "flux": 5e-7},
      {"energy": 11280, "flux": 4e-7}, {"energy": 11300, "flux": 5.6e-7}, {"energy": 11320, "flux": 4.2e-7}, {"energy": 11340, "flux": 6e-7},
      {"energy": 11360, "flux": 4.6e-7}, {"energy": 11380, "flux": 6.4e-7}, {"energy": 11400, "flux": 5e-7}, {"energy": 11420, "flux": 7e-7},
      {"energy": 11440, "flux": 9e-7}, {"energy": 11460, "flux": 6e-7}, {"energy": 11480, "flux": 7.5e-7}, {"energy": 11498, "flux": 6.5e-7},
      {"energy": 3010, "flux": 2e-7}, {"energy": 3030, "flux": 6e-8}, {"energy": 3050, "flux": 3e-7}, {"energy": 3070, "flux": 9e-8},
      {"energy": 3090, "flux": 4e-7}, {"energy": 3110, "flux": 7e-8}, {"energy": 3150, "flux": 5e-7}, {"energy": 3170, "flux": 2e-7},
      {"energy": 3190, "flux": 6e-8}, {"energy": 3210, "flux": 3e-7}, {"energy": 3230, "flux": 5e-8}, {"energy": 3250, "flux": 2.5e-7},
      {"energy": 3270, "flux": 1.2e-7}, {"energy": 3290, "flux": 4e-7}, {"energy": 3310, "flux": 8e-8}, {"energy": 3330, "flux": 2e-7},
      {"energy": 3350, "flux": 3e-8}, {"energy": 3370, "flux": 1.5e-7}, {"energy": 3390, "flux": 4e-7}, {"energy": 3410, "flux": 5e-8},
      {"energy": 3430, "flux": 2e-7}, {"energy": 3450, "flux": 8e-8}, {"energy": 3470, "flux": 3e-7}, {"energy": 3490, "flux": 1e-7},
      {"energy": 3510, "flux": 4e-7}, {"energy": 3530, "flux": 6e-8}, {"energy": 3550, "flux": 1.5e-7}, {"energy": 3570, "flux": 4e-8},
      {"energy": 3590, "flux": 3e-7}, {"energy": 3610, "flux": 1.2e-7}, {"energy": 3630, "flux": 6e-8}, {"energy": 3650, "flux": 3.5e-7},
      {"energy": 3670, "flux": 5e-8}, {"energy": 3690, "flux": 1.8e-7}, {"energy": 3710, "flux": 4e-7}, {"energy": 3730, "flux": 7e-8},
      {"energy": 3750, "flux": 2e-7}, {"energy": 3770, "flux": 3e-7}, {"energy": 3790, "flux": 5e-8}, {"energy": 3810, "flux": 1.5e-7},
      {"energy": 3830, "flux": 2e-7}, {"energy": 3850, "flux": 3e-8}, {"energy": 3870, "flux": 2.5e-7}, {"energy": 3890, "flux": 6e-8},
      {"energy": 3910, "flux": 2e-7}, {"energy": 3930, "flux": 4e-8}, {"energy": 3950, "flux": 3e-7}, {"energy": 3970, "flux": 1.2e-7},
      {"energy": 3990, "flux": 4e-7}, {"energy": 4010, "flux": 1.5e-7}, {"energy": 4030, "flux": 5e-8}, {"energy": 4050, "flux": 3e-7},
      {"energy": 4070, "flux": 1e-7}, {"energy": 4090, "flux": 2.5e-7}, {"energy": 4110, "flux": 7e-7}, {"energy": 4130, "flux": 9e-8},
      {"energy": 4150, "flux": 3e-7}, {"energy": 4170, "flux": 4e-7}, {"energy": 4190, "flux": 6e-8}, {"energy": 4210, "flux": 2e-7},
      {"energy": 4230, "flux": 5e-7}, {"energy": 4250, "flux": 1e-7}, {"energy": 4270, "flux": 3e-7}, {"energy": 4290, "flux": 6e-8},
      {"energy": 4310, "flux": 2e-7}, {"energy": 4330, "flux": 5e-7}, {"energy": 4350, "flux": 8e-8}, {"energy": 4370, "flux": 3e-7},
      {"energy": 4390, "flux": 2e-7}, {"energy": 4410, "flux": 3e-7}, {"energy": 4430, "flux": 4e-7}, {"energy": 4450, "flux": 1.5e-7},
      {"energy": 4470, "flux": 4e-7}, {"energy": 4490, "flux": 6e-8}, {"energy": 4510, "flux": 3e-7}, {"energy": 4530, "flux": 1.2e-7},
      {"energy": 4550, "flux": 5e-7}, {"energy": 4570, "flux": 2e-7}, {"energy": 4590, "flux": 4e-7}, {"energy": 4610, "flux": 1.5e-7},
      {"energy": 4630, "flux": 3e-7}, {"energy": 4650, "flux": 4e-7}, {"energy": 4670, "flux": 1e-7}, {"energy": 4690, "flux": 3e-7},
      {"energy": 4710, "flux": 6e-7}, {"energy": 4730, "flux": 1.2e-7}, {"energy": 4750, "flux": 3e-7}, {"energy": 4770, "flux": 2e-7},
      {"energy": 4790, "flux": 4e-7}, {"energy": 4810, "flux": 2e-7}, {"energy": 4830, "flux": 1e-7}, {"energy": 4850, "flux": 4e-7},
      {"energy": 4870, "flux": 2.5e-7}, {"energy": 4890, "flux": 1.5e-7}, {"energy": 4910, "flux": 4e-7}, {"energy": 4950, "flux": 3e-7},
      {"energy": 4970, "flux": 1.2e-7}, {"energy": 4990, "flux": 5e-7}, {"energy": 5010, "flux": 2e-7}, {"energy": 5030, "flux": 3e-7},
      {"energy": 5050, "flux": 4e-7}, {"energy": 5070, "flux": 1e-7}, {"energy": 5090, "flux": 4e-7}, {"energy": 5110, "flux": 2.5e-7},
      {"energy": 5130, "flux": 1.5e-7}, {"energy": 5150, "flux": 6e-7}, {"energy": 5170, "flux": 3e-7}, {"energy": 5190, "flux": 5e-7},
      {"energy": 5210, "flux": 2e-7}, {"energy": 5230, "flux": 3e-7}, {"energy": 5250, "flux": 2e-7}, {"energy": 5270, "flux": 4e-7},
      {"energy": 5290, "flux": 2e-7}, {"energy": 5310, "flux": 1.2e-7}, {"energy": 5330, "flux": 3e-7}, {"energy": 5350, "flux": 6e-7},
      {"energy": 5370, "flux": 2e-7}, {"energy": 5390, "flux": 3e-7}, {"energy": 5410, "flux": 1e-7}, {"energy": 5430, "flux": 3e-7},
      {"energy": 5450, "flux": 2e-7}, {"energy": 5470, "flux": 4e-7}, {"energy": 5490, "flux": 3e-7}, {"energy": 5510, "flux": 4e-7},
      {"energy": 5530, "flux": 8e-8}, {"energy": 5550, "flux": 2e-7}, {"energy": 5570, "flux": 6e-7}, {"energy": 5590, "flux": 1.2e-7},
      {"energy": 5610, "flux": 3e-7}, {"energy": 5630, "flux": 2e-7}, {"energy": 5650, "flux": 3e-7}, {"energy": 5670, "flux": 1e-7},
      {"energy": 5690, "flux": 2e-7}, {"energy": 5710, "flux": 5e-7}, {"energy": 5730, "flux": 2e-7}, {"energy": 5750, "flux": 3e-7},
      {"energy": 5770, "flux": 1.5e-7}, {"energy": 5790, "flux": 2e-7}, {"energy": 5810, "flux": 4e-7}, {"energy": 5830, "flux": 1.2e-7},
      {"energy": 5850, "flux": 5e-7}, {"energy": 5870, "flux": 3e-7}, {"energy": 5890, "flux": 6e-7}, {"energy": 5910, "flux": 2.5e-7},
      {"energy": 5930, "flux": 2e-7}, {"energy": 5950, "flux": 1.2e-7}, {"energy": 5970, "flux": 3e-7}, {"energy": 5990, "flux": 2e-7},
      {"energy": 6010, "flux": 3e-7}, {"energy": 6030, "flux": 4e-7}, {"energy": 6070, "flux": 1.5e-7}, {"energy": 6090, "flux": 5e-7},
      {"energy": 6110, "flux": 3e-7}, {"energy": 6130, "flux": 1.2e-7}, {"energy": 6150, "flux": 3e-7}, {"energy": 6170, "flux": 2e-7},
      {"energy": 6190, "flux": 3e-7}, {"energy": 6210, "flux": 5e-7}, {"energy": 6230, "flux": 3e-7}, {"energy": 6250, "flux": 2e-7},
      {"energy": 6270, "flux": 3e-7}, {"energy": 6290, "flux": 1.2e-7}, {"energy": 6310, "flux": 3e-7}, {"energy": 6330, "flux": 2e-7},
      {"energy": 6350, "flux": 5e-7}, {"energy": 6370, "flux": 2e-7}, {"energy": 6390, "flux": 3e-7}, {"energy": 6410, "flux": 2e-7},
      {"energy": 6430, "flux": 1.5e-7}, {"energy": 6450, "flux": 3e-7}, {"energy": 6470, "flux": 4e-7}, {"energy": 6490, "flux": 2e-7},
      {"energy": 6510, "flux": 3e-7}, {"energy": 6530, "flux": 5e-7}, {"energy": 6550, "flux": 2e-7}, {"energy": 6570, "flux": 1.5e-7},
      {"energy": 6590, "flux": 3e-7}, {"energy": 6610, "flux": 1e-7}, {"energy": 6630, "flux": 3e-7}, {"energy": 6650, "flux": 5e-7},
      {"energy": 6670, "flux": 1.2e-7}, {"energy": 6690, "flux": 3e-7}, {"energy": 6710, "flux": 2e-7}, {"energy": 6730, "flux": 4e-7},
      {"energy": 6750, "flux": 3e-7}, {"energy": 6770, "flux": 1e-7}, {"energy": 6790, "flux": 2e-7}, {"energy": 6810, "flux": 3e-7},
      {"energy": 6830, "flux": 2e-7}, {"energy": 6850, "flux": 5e-7}, {"energy": 6870, "flux": 2e-7}, {"energy": 6890, "flux": 3e-7},
      {"energy": 6930, "flux": 1.2e-7}, {"energy": 6950, "flux": 2e-7}, {"energy": 6970, "flux": 3e-7}, {"energy": 6990, "flux": 5e-7},
      {"energy": 7010, "flux": 2e-7}, {"energy": 7030, "flux": 4e-7}, {"energy": 7050, "flux": 1.2e-7}, {"energy": 7070, "flux": 3e-7},
      {"energy": 7090, "flux": 2.5e-7}, {"energy": 7110, "flux": 1.5e-7}, {"energy": 7130, "flux": 5e-7}, {"energy": 7150, "flux": 3e-7},
      {"energy": 7170, "flux": 2e-7}, {"energy": 7190, "flux": 1.5e-7}, {"energy": 7210, "flux": 4e-7}, {"energy": 7230, "flux": 3e-7},
      {"energy": 7250, "flux": 2.5e-7}, {"energy": 7270, "flux": 1.2e-7}, {"energy": 7290, "flux": 2e-7}, {"energy": 7310, "flux": 3e-7},
      {"energy": 7330, "flux": 5e-7}, {"energy": 7350, "flux": 2e-7}, {"energy": 7370, "flux": 3e-7}, {"energy": 7390, "flux": 4e-7},
      {"energy": 7410, "flux": 2e-7}, {"energy": 7430, "flux": 1.2e-7}, {"energy": 7450, "flux": 3e-7}, {"energy": 7470, "flux": 2e-7},
      {"energy": 7490, "flux": 3e-7}, {"energy": 7510, "flux": 2.5e-7}, {"energy": 7530, "flux": 5e-7}, {"energy": 7550, "flux": 2e-7},
      {"energy": 7570, "flux": 3e-7}, {"energy": 7590, "flux": 4e-7}, {"energy": 7610, "flux": 2.5e-7}, {"energy": 7630, "flux": 3e-7},
      {"energy": 7650, "flux": 1.2e-7}, {"energy": 7670, "flux": 2e-7}, {"energy": 7690, "flux": 3e-7}, {"energy": 7710, "flux": 2.5e-7},
      {"energy": 7730, "flux": 1.5e-7}, {"energy": 7750, "flux": 3e-7}, {"energy": 7770, "flux": 2e-7}, {"energy": 7790, "flux": 1.5e-7},
      {"energy": 7810, "flux": 1.2e-7}, {"energy": 7830, "flux": 3e-7}, {"energy": 7850, "flux": 2e-7}, {"energy": 7870, "flux": 3e-7},
      {"energy": 7890, "flux": 2e-7}, {"energy": 7910, "flux": 1.2e-7}, {"energy": 7930, "flux": 2.5e-7}, {"energy": 7950, "flux": 2e-7},
      {"energy": 7970, "flux": 3e-7}, {"energy": 7990, "flux": 2e-7}, {"energy": 8010, "flux": 2e-7}, {"energy": 8030, "flux": 1e-7},
      {"energy": 8050, "flux": 1.2e-7}, {"energy": 8070, "flux": 2.5e-7}, {"energy": 8090, "flux": 1.5e-7}, {"energy": 8110, "flux": 2e-7},
      {"energy": 8130, "flux": 1.2e-7}, {"energy": 8150, "flux": 2.5e-7}, {"energy": 8170, "flux": 9e-8}, {"energy": 8190, "flux": 2e-7},
      {"energy": 8210, "flux": 2.5e-7}, {"energy": 8230, "flux": 1.2e-7}, {"energy": 8250, "flux": 2e-7}, {"energy": 8270, "flux": 1e-7},
      {"energy": 8290, "flux": 1.5e-7}, {"energy": 8310, "flux": 2e-7}, {"energy": 8330, "flux": 1.5e-7}, {"energy": 8350, "flux": 1.2e-7},
      {"energy": 8370, "flux": 1e-7}, {"energy": 8390, "flux": 2e-7}, {"energy": 8410, "flux": 1.5e-7}, {"energy": 8430, "flux": 1.2e-7},
      {"energy": 8450, "flux": 2e-7}, {"energy": 8470, "flux": 1e-7}, {"energy": 8490, "flux": 1.5e-7}, {"energy": 8510, "flux": 2e-7},
      {"energy": 8530, "flux": 1.2e-7}, {"energy": 8550, "flux": 1.5e-7}, {"energy": 8570, "flux": 2e-7}, {"energy": 8590, "flux": 1e-7},
      {"energy": 8610, "flux": 1.5e-7}, {"energy": 8630, "flux": 1e-7}, {"energy": 8650, "flux": 1.6e-7}, {"energy": 8670, "flux": 1.2e-7},
      {"energy": 8690, "flux": 1.5e-7}, {"energy": 8710, "flux": 1.2e-7}, {"energy": 8730, "flux": 1e-7}, {"energy": 8750, "flux": 1.2e-7},
      {"energy": 8770, "flux": 2e-7}, {"energy": 8790, "flux": 1.4e-7}, {"energy": 8810, "flux": 1.2e-7}, {"energy": 8830, "flux": 1.5e-7},
      {"energy": 8850, "flux": 1e-7}, {"energy": 8870, "flux": 2e-7}, {"energy": 8890, "flux": 1.4e-7}, {"energy": 8910, "flux": 1.2e-7},
      {"energy": 8930, "flux": 1e-7}, {"energy": 8950, "flux": 1.8e-7}, {"energy": 8970, "flux": 1.2e-7}, {"energy": 8990, "flux": 1.5e-7},
      {"energy": 9010, "flux": 1.3e-7}, {"energy": 9030, "flux": 1.6e-7}, {"energy": 9050, "flux": 1.3e-7}, {"energy": 9070, "flux": 1.5e-7},
      {"energy": 9090, "flux": 2e-7}, {"energy": 9110, "flux": 1.2e-7}, {"energy": 9130, "flux": 1.4e-7}, {"energy": 9150, "flux": 1.6e-7},
      {"energy": 9170, "flux": 1.8e-7}, {"energy": 9190, "flux": 1.2e-7}, {"energy": 9210, "flux": 1.5e-7}, {"energy": 9230, "flux": 1.3e-7},
      {"energy": 9250, "flux": 1.5e-7}, {"energy": 9270, "flux": 1.2e-7}, {"energy": 9290, "flux": 1.5e-7}, {"energy": 9310, "flux": 1.8e-7},
      {"energy": 9330, "flux": 1e-7}, {"energy": 9350, "flux": 1.4e-7}, {"energy": 9370, "flux": 1.8e-7}, {"energy": 9390, "flux": 1.5e-7},
      {"energy": 9410, "flux": 1.3e-7}, {"energy": 9430, "flux": 1.7e-7}, {"energy": 9450, "flux": 2e-7}, {"energy": 9470, "flux": 2.2e-7},
      {"energy": 9490, "flux": 1.8e-7}, {"energy": 9510, "flux": 2e-7}, {"energy": 9530, "flux": 1.8e-7}, {"energy": 9550, "flux": 2.2e-7},
      {"energy": 9670, "flux": 1.5e-7}, {"energy": 9690, "flux": 1.2e-7}, {"energy": 9710, "flux": 1.4e-7}, {"energy": 9730, "flux": 1.6e-7},
      {"energy": 9750, "flux": 1.2e-7}, {"energy": 9770, "flux": 1.5e-7}, {"energy": 9790, "flux": 1.6e-7}, {"energy": 9810, "flux": 1.2e-7},
      {"energy": 9830, "flux": 1.5e-7}, {"energy": 9850, "flux": 1.3e-7}, {"energy": 9870, "flux": 1.2e-7}, {"energy": 9890, "flux": 1.5e-7},
      {"energy": 9910, "flux": 1.3e-7}, {"energy": 9930, "flux": 1.5e-7}, {"energy": 9950, "flux": 1.3e-7}, {"energy": 9970, "flux": 1.6e-7},
      {"energy": 9990, "flux": 1.4e-7}, {"energy": 10010, "flux": 1.5e-7}, {"energy": 10030, "flux": 1.4e-7}, {"energy": 10050, "flux": 1.3e-7},
      {"energy": 10070, "flux": 1.5e-7}, {"energy": 10090, "flux": 1.4e-7}, {"energy": 10110, "flux": 1.3e-7}, {"energy": 10130, "flux": 1.2e-7},
      {"energy": 10150, "flux": 1.3e-7}, {"energy": 10170, "flux": 1.4e-7}, {"energy": 10190, "flux": 1.3e-7}, {"energy": 10210, "flux": 1.2e-7},
      {"energy": 10230, "flux": 1.1e-7}, {"energy": 10250, "flux": 1.3e-7}, {"energy": 10270, "flux": 1.2e-7}, {"energy": 10290, "flux": 1.3e-7},
      {"energy": 10310, "flux": 1.2e-7}, {"energy": 10330, "flux": 1.3e-7}, {"energy": 10350, "flux": 1.4e-7}, {"energy": 10370, "flux": 1.2e-7},
      {"energy": 10390, "flux": 1.4e-7}, {"energy": 10410, "flux": 1.3e-7}, {"energy": 10430, "flux": 1.25e-7}, {"energy": 10450, "flux": 1.3e-7},
      {"energy": 10470, "flux": 1.4e-7}, {"energy": 10490, "flux": 1.4e-7}, {"energy": 10510, "flux": 1.5e-7}, {"energy": 10530, "flux": 1.4e-7},
      {"energy": 10550, "flux": 1.5e-7}, {"energy": 10570, "flux": 1.5e-7}, {"energy": 10590, "flux": 1.5e-7}, {"energy": 10610, "flux": 1.6e-7},
      {"energy": 10630, "flux": 1.5e-7}, {"energy": 10650, "flux": 1.6e-7}, {"energy": 10670, "flux": 1.6e-7}, {"energy": 10690, "flux": 1.6e-7},
      {"energy": 10710, "flux": 1.5e-7}, {"energy": 10730, "flux": 1.7e-7}, {"energy": 10750, "flux": 1.7e-7}, {"energy": 10770, "flux": 1.8e-7},
      {"energy": 10790, "flux": 1.8e-7}, {"energy": 10810, "flux": 1.7e-7}, {"energy": 10830, "flux": 1.8e-7}, {"energy": 10850, "flux": 1.9e-7},
      {"energy": 10870, "flux": 2e-7}, {"energy": 10890, "flux": 2e-7}, {"energy": 10910, "flux": 2.1e-7}, {"energy": 10930, "flux": 2.2e-7},
      {"energy": 10950, "flux": 2.3e-7}, {"energy": 10970, "flux": 2.4e-7}, {"energy": 10990, "flux": 2.4e-7}, {"energy": 11010, "flux": 2.6e-7},
      {"energy": 11030, "flux": 2.7e-7}, {"energy": 11050, "flux": 2.8e-7}, {"energy": 11070, "flux": 2.9e-7}, {"energy": 11090, "flux": 3e-7},
      {"energy": 11110, "flux": 3.2e-7}, {"energy": 11130, "flux": 3.4e-7}, {"energy": 11150, "flux": 3.5e-7}, {"energy": 11170, "flux": 3.7e-7},
      {"energy": 11190, "flux": 3.9e-7}, {"energy": 11210, "flux": 4.1e-7}, {"energy": 11230, "flux": 4.2e-7}, {"energy": 11250, "flux": 4.3e-7},
      {"energy": 11270, "flux": 4.6e-7}, {"energy": 11290, "flux": 4.8e-7}, {"energy": 11310, "flux": 5e-7}, {"energy": 11330, "flux": 5.1e-7},
      {"energy": 11350, "flux": 5.3e-7}, {"energy": 11370, "flux": 5.5e-7}, {"energy": 11390, "flux": 5.7e-7}, {"energy": 11410, "flux": 6e-7},
      {"energy": 11430, "flux": 6.3e-7}, {"energy": 11450, "flux": 7e-7}, {"energy": 11470, "flux": 6.8e-7}, {"energy": 11490, "flux": 6.6e-7}
    ]
  },
  "mark": {"type": "line", "strokeWidth": 4.2, "opacity": 0.85, "strokeJoin": "round", "clip": true},
  "encoding": {
    "x": {
      "field": "energy",
      "type": "quantitative",
      "scale": {"domain": [54, 11498], "nice": false, "zero": false},
      "axis": {
        "values": [2000, 4000, 6000, 8000, 10000],
        "format": "d",
        "labelPadding": 10,
        "labelFlush": false,
        "title": "Energy [keV]",
        "titleY": 92,
        "titleBaseline": "alphabetic"
      }
    },
    "y": {
      "field": "flux",
      "type": "quantitative",
      "scale": {"type": "log", "domain": [8.3e-11, 380], "nice": false},
      "axis": {
        "values": [1e-9, 1e-7, 1e-5, 1e-3, 1e-1, 10],
        "labelExpr": "datum.value < 1e-8 ? '10⁻⁹' : datum.value < 1e-6 ? '10⁻⁷' : datum.value < 1e-4 ? '10⁻⁵' : datum.value < 1e-2 ? '10⁻³' : datum.value < 1 ? '10⁻¹' : '10¹'",
        "labelPadding": 10,
        "title": "Gamma Flux [Hz/mm²/keV]",
        "titleX": -129,
        "titleY": 592,
        "titleAngle": -90,
        "titleAlign": "center",
        "titleBaseline": "middle"
      }
    },
    "color": {
      "datum": "Isotropic",
      "type": "nominal",
      "scale": {"range": ["#d62728"]},
      "legend": {
        "title": null,
        "orient": "none",
        "legendX": 1505,
        "legendY": 16,
        "symbolType": "M-3.5,0H3.5",
        "symbolSize": 400,
        "symbolOffset": 17,
        "symbolStrokeWidth": 4.2,
        "symbolOpacity": 0.85,
        "labelOffset": 41,
        "labelFontSize": 33,
        "labelFont": "DejaVu Sans",
        "labelColor": "#000000",
        "padding": 13,
        "strokeColor": "#cccccc",
        "fillColor": "rgba(255,255,255,0.8)",
        "cornerRadius": 7
      }
    }
  },
  "config": {
    "font": "DejaVu Sans",
    "view": {"stroke": "#000000", "strokeWidth": 2.2},
    "axis": {
      "labelFont": "DejaVu Sans",
      "labelFontSize": 33,
      "labelColor": "#000000",
      "labelOverlap": false,
      "titleFont": "DejaVu Sans",
      "titleFontSize": 38,
      "titleFontWeight": "normal",
      "titleColor": "#000000",
      "domainColor": "#000000",
      "domainWidth": 2.2,
      "tickColor": "#000000",
      "tickWidth": 2.2,
      "tickSize": 10,
      "grid": true,
      "gridColor": "#e6e6e6",
      "gridWidth": 2.2
    },
    "title": {
      "font": "DejaVu Sans",
      "fontSize": 44.5,
      "fontWeight": "normal",
      "color": "#000000",
      "anchor": "middle",
      "frame": "group",
      "baseline": "alphabetic",
      "offset": 6
    }
  }
}
